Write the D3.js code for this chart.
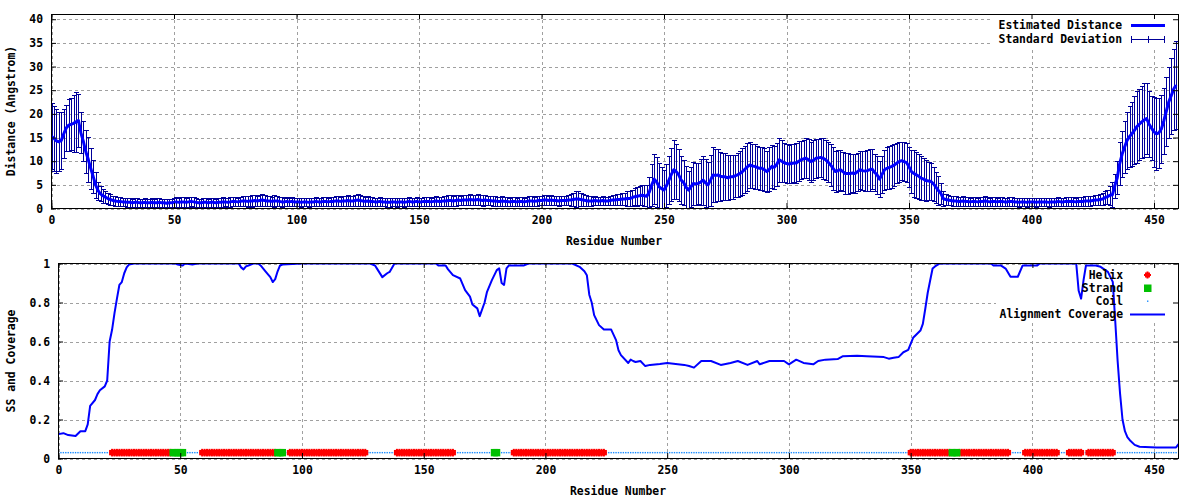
<!DOCTYPE html>
<html><head><meta charset="utf-8">
<script src="https://cdn.jsdelivr.net/npm/d3@7"></script>
<style>
html,body{margin:0;padding:0;background:#fff;}
svg text{font-family:"DejaVu Sans Mono",monospace;font-weight:bold;font-size:11.4px;fill:#000;}
</style></head><body>
<svg id="c" width="1200" height="500"></svg>
<script>
// ---------------- DATA ----------------
const xTickValues = [0,50,100,150,200,250,300,350,400,450];
const yTickValuesTop = [0,5,10,15,20,25,30,35,40];
const yTickValuesBottom = [0,0.2,0.4,0.6,0.8,1];
const yTickLabelsBottom = ["0","0.2","0.4","0.6","0.8","1"];

// estimated distance per residue (residue 0..459)
const distMean = [
15.3,14.8,14.3,14.1,14.4,15.8,17.0,17.6,17.8,18.0,
18.3,18.6,16.0,14.2,12.0,10.4,8.5,6.8,5.0,3.8,
3.1,2.7,2.4,2.1,1.9,1.7,1.6,1.5,1.5,1.4,
1.4,1.3,1.3,1.2,1.3,1.3,1.2,1.2,1.3,1.2,
1.2,1.3,1.2,1.2,1.3,1.2,1.2,1.1,1.2,1.2,
1.3,1.4,1.3,1.4,1.4,1.3,1.4,1.5,1.4,1.3,
1.2,1.2,1.3,1.3,1.2,1.3,1.3,1.2,1.3,1.3,
1.4,1.4,1.3,1.4,1.5,1.5,1.4,1.5,1.6,1.6,
1.5,1.6,1.6,1.7,1.6,1.7,1.8,1.7,1.6,1.6,
1.5,1.6,1.6,1.5,1.4,1.4,1.5,1.4,1.5,1.4,
1.4,1.4,1.3,1.4,1.4,1.3,1.4,1.4,1.5,1.4,
1.4,1.5,1.5,1.4,1.5,1.5,1.6,1.6,1.5,1.6,
1.6,1.7,1.6,1.6,1.7,1.8,1.7,1.6,1.5,1.6,
1.5,1.5,1.4,1.4,1.5,1.4,1.4,1.3,1.3,1.4,
1.4,1.3,1.4,1.4,1.3,1.4,1.5,1.4,1.4,1.5,
1.4,1.4,1.5,1.5,1.5,1.4,1.5,1.6,1.5,1.5,
1.6,1.6,1.7,1.7,1.6,1.7,1.8,1.7,1.8,1.8,
1.8,1.9,1.8,1.8,1.9,1.8,1.7,1.8,1.7,1.7,
1.6,1.6,1.5,1.5,1.6,1.5,1.5,1.4,1.5,1.5,
1.4,1.5,1.5,1.4,1.5,1.6,1.6,1.5,1.6,1.7,
1.7,1.8,1.8,1.7,1.8,1.7,1.7,1.6,1.7,1.7,
1.7,1.8,1.8,1.9,2.0,2.0,1.9,1.8,1.7,1.6,
1.6,1.6,1.7,1.6,1.6,1.7,1.6,1.6,1.7,1.8,
1.8,1.9,1.9,2.0,2.0,2.1,2.1,2.3,2.5,2.6,
2.7,2.8,2.7,2.6,3.5,5.0,6.2,5.6,4.6,4.2,
3.9,4.8,6.0,7.2,8.2,7.8,7.1,6.0,5.5,4.5,
3.9,4.6,5.3,5.2,5.3,5.6,6.0,5.4,5.0,6.0,
7.1,7.0,7.1,6.8,6.7,6.7,6.5,6.7,6.7,6.9,
7.1,7.4,7.8,8.3,8.8,9.2,9.0,8.9,8.7,8.5,
8.5,8.2,7.8,8.3,8.9,8.7,9.3,10.3,10.0,9.7,
9.5,9.4,9.5,9.6,9.6,10.0,10.3,10.5,10.6,10.3,
9.9,10.2,10.6,10.7,10.8,10.6,10.3,9.8,9.2,8.5,
7.8,8.0,8.2,7.8,7.4,7.4,7.4,7.5,7.4,7.8,
8.2,8.0,7.9,8.0,8.2,8.3,7.6,7.1,6.2,7.2,
8.2,8.5,8.7,8.9,9.2,9.6,9.9,10.1,9.9,9.7,
8.8,7.8,7.4,7.1,6.8,6.4,6.2,5.9,5.8,5.7,
5.2,4.5,3.8,3.2,2.1,1.9,1.8,1.7,1.6,1.6,
1.5,1.5,1.6,1.5,1.5,1.4,1.5,1.5,1.4,1.5,
1.5,1.6,1.5,1.4,1.5,1.5,1.4,1.5,1.5,1.4,
1.4,1.5,1.5,1.4,1.4,1.3,1.4,1.4,1.3,1.4,
1.4,1.4,1.3,1.4,1.4,1.4,1.4,1.3,1.4,1.4,
1.4,1.5,1.4,1.4,1.5,1.5,1.5,1.5,1.4,1.5,
1.5,1.5,1.6,1.6,1.6,1.7,1.8,1.8,1.9,2.0,
2.3,2.5,2.8,2.9,4.8,6.5,9.5,11.5,13.0,14.4,
15.2,15.8,16.5,17.3,17.8,18.3,18.7,19.0,17.8,17.0,
16.2,15.8,16.0,16.8,18.5,20.5,22.5,23.8,25.2,26.1
];

// standard deviation per residue
const distSd = [
6.9,6.8,6.7,6.2,6.0,5.2,4.9,5.5,5.5,6.0,
6.4,5.6,4.3,4.2,4.5,4.8,4.3,3.5,2.8,1.9,
1.6,1.5,1.3,1.2,1.1,1.0,1.0,0.9,0.9,0.9,
0.9,0.9,0.9,0.9,1.0,0.9,0.9,0.9,0.9,0.9,
0.9,0.9,0.9,1.0,0.9,0.9,0.9,0.9,0.9,0.9,
1.0,1.0,1.0,1.0,1.0,1.0,1.1,1.0,1.0,0.9,
0.9,0.9,0.9,0.9,0.9,0.9,0.9,0.9,0.9,1.0,
1.0,0.9,0.9,1.0,1.0,1.0,0.9,1.0,1.1,1.1,
1.1,1.1,1.2,1.1,1.1,1.2,1.3,1.1,1.1,1.0,
1.0,1.2,1.1,1.0,1.0,0.9,1.0,0.9,0.9,0.9,
0.9,0.9,0.9,0.9,0.9,0.9,0.9,0.9,1.0,0.9,
0.9,1.0,1.0,0.9,1.0,1.0,1.0,1.0,1.0,1.0,
1.0,1.1,1.0,1.0,1.1,1.2,1.1,1.0,1.0,1.0,
1.0,1.0,0.9,0.9,1.0,0.9,0.9,0.9,0.9,0.9,
0.9,0.9,0.9,0.9,0.9,0.9,1.0,0.9,0.9,1.0,
0.9,0.9,1.0,1.0,1.0,0.9,1.0,1.0,1.0,1.0,
1.0,1.0,1.1,1.1,1.0,1.1,1.1,1.0,1.1,1.1,
1.1,1.2,1.1,1.1,1.2,1.1,1.1,1.1,1.0,1.0,
1.0,1.0,0.9,0.9,1.0,0.9,0.9,0.9,0.9,0.9,
0.9,0.9,0.9,0.9,0.9,1.0,1.0,0.9,1.0,1.0,
1.0,1.1,1.1,1.0,1.1,1.0,1.0,1.0,1.0,1.0,
1.0,1.1,1.2,1.4,1.7,1.8,1.4,1.2,1.1,1.0,
1.0,0.9,1.0,0.9,0.9,1.0,0.9,0.9,1.0,1.0,
1.0,1.1,1.1,1.2,1.3,1.5,1.6,1.7,1.8,2.0,
2.0,2.1,2.2,2.4,3.2,4.5,5.3,5.2,5.0,4.6,
4.2,4.5,5.0,5.6,6.2,5.8,5.5,5.0,4.8,4.5,
4.0,4.2,4.6,4.5,4.4,4.9,5.2,5.0,4.8,5.4,
5.8,5.6,5.5,5.2,5.0,5.0,4.8,4.7,4.6,4.5,
4.6,4.7,4.9,5.0,5.0,4.9,4.7,4.8,4.6,4.5,
4.6,4.5,4.4,4.6,4.5,4.5,4.6,4.7,4.5,4.2,
4.2,4.0,4.1,4.1,4.3,4.2,4.0,4.0,4.2,4.3,
4.2,4.2,4.1,4.0,4.2,4.4,4.2,4.3,4.5,4.6,
4.4,4.4,4.2,4.1,4.3,4.4,4.2,4.0,4.1,4.0,
4.0,4.1,4.2,4.4,4.4,4.2,4.0,4.0,3.8,4.0,
4.2,4.4,4.6,4.5,4.4,4.3,4.2,4.0,4.1,4.2,
4.3,4.6,4.9,4.8,4.8,4.6,4.4,4.3,4.0,4.0,
3.6,3.3,3.0,2.2,1.5,1.2,1.0,1.0,1.0,1.0,
1.0,0.9,1.0,0.9,0.9,0.9,0.9,0.9,0.9,0.9,
0.9,1.0,0.9,0.9,0.9,0.9,0.9,0.9,0.9,0.9,
0.9,0.9,0.9,0.9,0.9,0.9,0.9,0.9,0.9,0.9,
0.9,0.9,0.9,0.9,0.9,0.9,0.9,0.9,0.9,0.9,
0.9,0.9,0.9,0.9,0.9,1.0,1.0,1.0,0.9,1.0,
1.0,1.0,1.0,1.0,1.0,1.0,1.1,1.1,1.1,1.2,
1.3,1.5,2.0,2.6,2.5,3.5,4.5,4.8,5.5,6.0,
6.5,6.8,7.2,7.6,7.5,7.6,7.8,7.5,7.0,6.8,
7.4,7.6,7.4,7.2,7.0,7.2,7.5,8.0,8.6,9.4
];

// alignment coverage (residue, value) vertices
const coverageResidue = [0,2,4,7,9,11,12,13,15,16,17,19,20,21,22,23,24,25,26,27,28,29,31,48,49,51,52,55,57,74,75,76,77,78,80,82,83,85,87,88,89,90,91,92,100,128,130,131,133,135,136,138,155,156,159,160,162,165,167,169,170,172,173,175,176,178,180,181,182,183,184,185,191,193,211,214,216,217,218,219,220,222,224,227,229,230,231,234,235,236,237,239,241,243,247,250,257,259,261,264,268,272,276,279,283,287,288,292,298,300,303,306,310,312,315,320,322,328,332,339,341,343,345,347,349,351,354,355,356,357,358,359,360,362,383,384,387,389,391,394,396,402,403,418,419,420,421,422,426,428,431,433,434,435,436,437,438,439,440,442,444,451,459,460];
const coverageValue = [0.125,0.13,0.12,0.115,0.14,0.14,0.175,0.27,0.3,0.33,0.35,0.37,0.4,0.6,0.66,0.745,0.82,0.89,0.905,0.95,0.98,0.995,1,1,0.995,0.99,1,0.995,1,1,0.98,0.97,0.985,0.99,1,1,0.99,0.96,0.93,0.905,0.92,0.96,0.99,0.995,1,1,0.99,0.97,0.93,0.95,0.957,1,1,0.99,0.99,0.97,0.94,0.923,0.863,0.83,0.79,0.77,0.73,0.8,0.855,0.915,0.966,0.975,0.9,0.89,0.975,0.99,0.99,1,1,0.983,0.96,0.94,0.84,0.8,0.735,0.684,0.661,0.661,0.607,0.555,0.53,0.49,0.507,0.5,0.495,0.5,0.474,0.48,0.485,0.49,0.48,0.474,0.466,0.5,0.5,0.48,0.49,0.5,0.48,0.5,0.483,0.5,0.5,0.483,0.507,0.49,0.483,0.5,0.507,0.51,0.524,0.527,0.524,0.52,0.512,0.517,0.52,0.545,0.557,0.619,0.656,0.69,0.768,0.85,0.913,0.974,0.985,1,1,0.99,0.99,0.974,0.932,0.932,0.99,0.99,1,1,0.86,0.82,0.915,0.99,0.99,0.983,0.957,0.906,0.709,0.5,0.333,0.2,0.14,0.11,0.094,0.07,0.06,0.057,0.057,0.074];

// secondary structure, run-length encoded from residue 0 (H helix, E strand, C coil)
const ssType   = ["C","H","E","C","H","E","C","H","C","H","C","E","C","H","C","H","E","H","C","H","C","H","C","H","C"];
const ssLength = [22,25,5,7,31,3,2,32,12,24,16,2,6,38,125,17,3,21,6,14,4,6,2,11,26];
const ssLevel = 0.03;

// ---------------- DRAWING ----------------
const svg = d3.select("#c");
const NAVY = "#000099", BLUE = "#0000ff", GRID = "#a0a0a0";

function frame(x, y, L, R, T, B, yTicks, yFmt, legendBox) {
  const g = svg.append("g");
  // grid
  g.selectAll(".gx").data(xTickValues).join("line")
    .attr("x1", d => Math.round(x(d)) + 0.5).attr("x2", d => Math.round(x(d)) + 0.5)
    .attr("y1", T).attr("y2", B).attr("stroke", GRID).attr("stroke-dasharray", "3,3");
  g.selectAll(".gy").data(yTicks).join("line")
    .attr("y1", d => Math.round(y(d)) + 0.5).attr("y2", d => Math.round(y(d)) + 0.5)
    .attr("x1", L).attr("x2", R).attr("stroke", GRID).attr("stroke-dasharray", "3,3");
  // legend background
  g.append("rect").attr("x", legendBox[0]).attr("y", legendBox[1])
    .attr("width", legendBox[2]).attr("height", legendBox[3]).attr("fill", "#fff");
  return g;
}

function axes(x, y, L, R, T, B, yTicks, yFmt) {
  const g = svg.append("g");
  const bx = d3.axisBottom(x).tickValues(xTickValues).tickSizeInner(-5).tickSizeOuter(0).tickPadding(8);
  const tx = d3.axisTop(x).tickValues(xTickValues).tickSizeInner(-5).tickSizeOuter(0).tickFormat("");
  const ly = d3.axisLeft(y).tickValues(yTicks).tickSizeInner(-5).tickSizeOuter(0).tickPadding(8).tickFormat(yFmt);
  const ry = d3.axisRight(y).tickValues(yTicks).tickSizeInner(-5).tickSizeOuter(0).tickFormat("");
  g.append("g").attr("transform", `translate(0,${B})`).call(bx);
  g.append("g").attr("transform", `translate(0,${T})`).call(tx);
  g.append("g").attr("transform", `translate(${L},0)`).call(ly);
  g.append("g").attr("transform", `translate(${R},0)`).call(ry);
  g.selectAll(".domain").remove();
  g.selectAll(".tick line").attr("stroke", "#000");
  g.selectAll("text").attr("font-family", null).attr("font-size", null);
  g.append("rect").attr("x", L + 0.5).attr("y", T + 0.5).attr("width", R - L).attr("height", B - T)
    .attr("fill", "none").attr("stroke", "#000");
}

// ===== Top panel =====
const tL = 51, tR = 1178, tT = 14, tB = 208;
const xT = d3.scaleLinear().domain([0, 460]).range([tL + 0.5, tR + 0.5]);
const yT = d3.scaleLinear().domain([0, 41]).range([tB + 0.5, tT + 0.5]);
frame(xT, yT, tL, tR, tT, tB, yTickValuesTop, d => d, [993, 15, 185, 32]);

svg.append("defs").append("clipPath").attr("id", "clipT")
  .append("rect").attr("x", tL).attr("y", tT).attr("width", tR - tL + 1).attr("height", tB - tT + 1);
svg.select("defs").append("clipPath").attr("id", "clipB")
  .append("rect").attr("x", 58).attr("y", 263).attr("width", 1121).attr("height", 196);

const topData = distMean.map((m, i) => ({r: i, m: m, s: distSd[i]}));
const eb = svg.append("g").attr("clip-path", "url(#clipT)").attr("stroke", NAVY).attr("stroke-width", 1).attr("fill", "none");
eb.selectAll("path").data(topData).join("path")
  .attr("d", d => {
    const cx = Math.round(xT(d.r)) + 0.5;
    const y1 = Math.round(yT(d.m + d.s)) + 0.5, y0 = Math.round(yT(Math.max(0, d.m - d.s))) + 0.5;
    return `M${cx},${y0}V${y1}M${cx - 2.5},${y1}H${cx + 2.5}M${cx - 2.5},${y0}H${cx + 2.5}`;
  });
svg.append("path").datum(topData).attr("clip-path", "url(#clipT)")
  .attr("fill", "none").attr("stroke", BLUE).attr("stroke-width", 3).attr("stroke-linejoin", "round")
  .attr("d", d3.line().x(d => xT(d.r)).y(d => yT(d.m)));

axes(xT, yT, tL, tR, tT, tB, yTickValuesTop, d => d);

// top legend
const lgT = svg.append("g");
lgT.append("text").attr("x", 1122).attr("y", 29).attr("text-anchor", "end").text("Estimated Distance");
lgT.append("text").attr("x", 1122).attr("y", 43).attr("text-anchor", "end").text("Standard Deviation");
lgT.append("line").attr("x1", 1131).attr("x2", 1165).attr("y1", 25.5).attr("y2", 25.5).attr("stroke", BLUE).attr("stroke-width", 3);
lgT.append("path").attr("fill", "none").attr("stroke", NAVY)
  .attr("d", "M1131,39.5H1165M1131.5,36V43M1164.5,36V43M1148.5,36V43");

svg.append("text").attr("x", 614).attr("y", 245).attr("text-anchor", "middle").text("Residue Number");
svg.append("text").attr("transform", "translate(15,111) rotate(-90)").attr("text-anchor", "middle").text("Distance (Angstrom)");

// ===== Bottom panel =====
const bL = 58, bR = 1178, bT = 263, bB = 458;
const xB = d3.scaleLinear().domain([0, 460]).range([bL + 0.5, bR + 0.5]);
const yB = d3.scaleLinear().domain([0, 1]).range([bB + 0.5, bT + 0.5]);
frame(xB, yB, bL, bR, bT, bB, yTickValuesBottom, null, [996, 266, 182, 55]);

// expand SS runs to residues
const ss = [];
let pos = 0;
ssType.forEach((t, k) => { for (let j = 0; j < ssLength[k]; j++) ss.push({r: pos + j, t: t}); pos += ssLength[k]; });

const ssG = svg.append("g").attr("clip-path", "url(#clipB)");
const yS = yB(ssLevel);
ssG.selectAll(".coil").data(ss.filter(d => d.t === "C")).join("rect")
  .attr("x", d => xB(d.r) - 0.7).attr("y", yS - 0.7).attr("width", 1.4).attr("height", 1.4).attr("fill", "#1a8cff");
const hx = ssG.selectAll(".helix").data(ss.filter(d => d.t === "H")).join("g")
  .attr("transform", d => `translate(${xB(d.r)},${yS})`).attr("fill", "#ff0000");
hx.append("rect").attr("x", -3).attr("y", -2.7).attr("width", 6).attr("height", 5.4);
hx.append("rect").attr("x", -1).attr("y", -3.8).attr("width", 2).attr("height", 7.6);
ssG.selectAll(".strand").data(ss.filter(d => d.t === "E")).join("rect")
  .attr("x", d => xB(d.r) - 3.5).attr("y", yS - 3.7).attr("width", 7).attr("height", 7.4).attr("fill", "#00c000");

const covData = coverageResidue.map((r, i) => ({r: r, v: coverageValue[i]}));
svg.append("path").datum(covData).attr("clip-path", "url(#clipB)")
  .attr("fill", "none").attr("stroke", BLUE).attr("stroke-width", 2).attr("stroke-linejoin", "round")
  .attr("d", d3.line().x(d => xB(d.r)).y(d => yB(d.v)));

axes(xB, yB, bL, bR, bT, bB, yTickValuesBottom, (d, i) => yTickLabelsBottom[i]);

// bottom legend
const lgB = svg.append("g");
["Helix", "Strand", "Coil", "Alignment Coverage"].forEach((t, i) => {
  lgB.append("text").attr("x", 1123).attr("y", 279 + i * 13).attr("text-anchor", "end").text(t);
});
const hl = lgB.append("g").attr("transform", "translate(1147.5,275)").attr("fill", "#ff0000");
hl.append("rect").attr("x", -2.5).attr("y", -2.5).attr("width", 5).attr("height", 5);
hl.append("rect").attr("x", -1).attr("y", -3.5).attr("width", 2).attr("height", 7);
hl.append("rect").attr("x", -3.5).attr("y", -1).attr("width", 7).attr("height", 2);
lgB.append("rect").attr("x", 1144).attr("y", 284.5).attr("width", 7.5).attr("height", 7.5).attr("fill", "#00c000");
lgB.append("rect").attr("x", 1147).attr("y", 300.5).attr("width", 1.4).attr("height", 1.4).attr("fill", "#1a8cff");
lgB.append("line").attr("x1", 1130).attr("x2", 1165).attr("y1", 314.5).attr("y2", 314.5).attr("stroke", BLUE).attr("stroke-width", 2);

svg.append("text").attr("x", 618).attr("y", 495).attr("text-anchor", "middle").text("Residue Number");
svg.append("text").attr("transform", "translate(15,361) rotate(-90)").attr("text-anchor", "middle").text("SS and Coverage");
</script>
</body></html>
